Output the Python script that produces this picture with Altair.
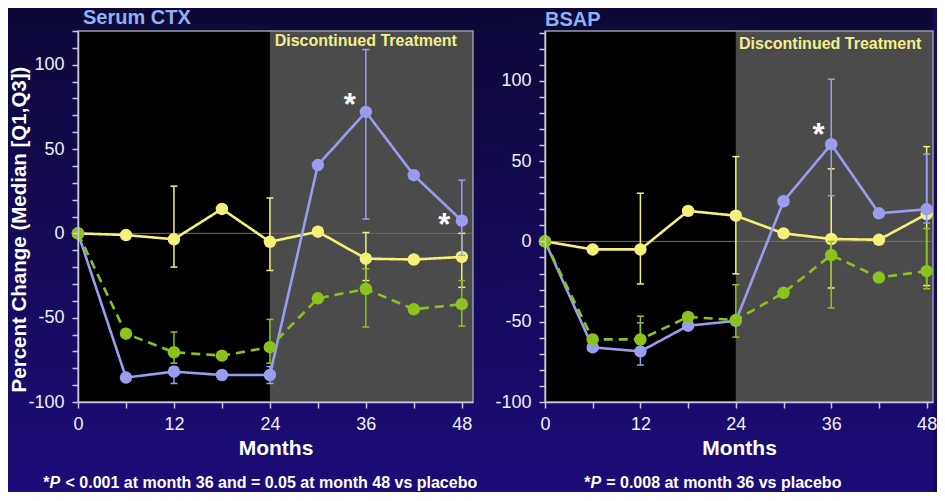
import altair as alt
import pandas as pd

FONT = "Liberation Sans"

months = [0, 6, 12, 18, 24, 30, 36, 42, 48]
series = ["Placebo", "Denosumab", "Comparator"]
colors = ["#f5f07a", "#9a9cf0", "#8cc21c"]
dashes = [[1, 0], [1, 0], [9, 6]]

# ---- Serum CTX (percent change, median) ----
ctx_placebo = [0, -1, -3.5, 14.5, -5, 1, -15, -15.5, -14]
ctx_deno = [0, -85.5, -82, -84, -84, 40.5, 72, 34.5, 7.5]
ctx_comp = [0, -59.5, -70.5, -72.5, -67.5, -38.5, -33, -45, -42]

ctx_err_series = ["Placebo"] * 4 + ["Denosumab"] * 4 + ["Comparator"] * 4
ctx_err_month = [12, 24, 36, 48] * 3
ctx_err_low = [-20, -22, -28, -32, -89, -89, 8.5, -13, -77, -77, -55.5, -55]
ctx_err_high = [28, 21, 0.5, 0, -79, -79, 109, 31.5, -58.5, -51, -21, -28]

ctx_star_month = [34, 45.8]
ctx_star_value = [77.5, 6.3]

# ---- BSAP ----
bsap_placebo = [0, -5, -5, 19, 16, 5, 1.5, 1, 17]
bsap_deno = [0, -66, -68.5, -52.5, -49.5, 25, 60.5, 17.5, 20]
bsap_comp = [0, -61, -61, -47, -49, -32, -8.5, -22.5, -18.5]

bsap_err_series = ["Placebo"] * 4 + ["Denosumab"] * 3 + ["Comparator"] * 4
bsap_err_month = [12, 24, 36, 48, 12, 36, 48, 12, 24, 36, 48]
bsap_err_low = [-26.5, -20.2, -29, -27.5, -77, 28.4, 11.4, -64, -59.6, -41.4, -29.5]
bsap_err_high = [30, 52.8, 45.2, 59, -50.7, 101, 54.3, -46.6, -27, 0, 8]

bsap_star_month = [34.4]
bsap_star_value = [67.7]

disc_label = "Discontinued Treatment"
phase_start = [0, 24]
phase_colors = ["#000000", "#4b4b4b"]

ctx_foot = ["*", "P", "< 0.001 at month 36 and = 0.05 at month 48 vs placebo"]
bsap_foot = ["*", "P", "= 0.008 at month 36 vs placebo"]

HEIGHT = 371


def panel(title_text, title_pos, vals, err, stars, disc_pos,
          ymax, xmax, width, ytitle, foot, foot_x, gradient):
    xs = alt.Scale(domain=[0, xmax], nice=False, zero=False)
    ys = alt.Scale(domain=[-100, ymax], nice=False, zero=False)
    xax = alt.Axis(values=months, labelExpr="datum.value % 12 == 0 ? '' + datum.value : ''",
                   title="Months", titleFontSize=21, titleFontWeight="bold", titleColor="white",
                   titleFont=FONT, titleBaseline="alphabetic", titleY=52,
                   labelFont=FONT, labelFontSize=18, labelColor="#f0f0f8", labelPadding=7,
                   labelFlush=False, labelOverlap=False, tickSize=6, tickColor="#c8c8dc",
                   tickWidth=1.5, domainColor="#c8c8dc", domainWidth=1.5, grid=False, zindex=1)
    yargs = dict(values=list(range(-100, int(ymax) + 1, 10)),
                 labelExpr="datum.value % 50 == 0 ? '' + datum.value : ''",
                 labelFont=FONT, labelFontSize=18, labelColor="#f0f0f8", labelPadding=8,
                 labelOverlap=False, tickSize=6, tickColor="#c8c8dc", tickWidth=1.5,
                 domainColor="#c8c8dc", domainWidth=1.5, grid=False, zindex=1)
    if ytitle:
        yax = alt.Axis(title=ytitle, titleFont=FONT, titleFontSize=20.5, titleFontWeight="bold",
                       titleColor="white", titleX=-59, titleY=198, titleAngle=270,
                       titleBaseline="middle", titleAlign="center", **yargs)
    else:
        yax = alt.Axis(title=None, **yargs)

    def ex(f):
        return alt.X(f"{f}:Q", scale=xs, axis=xax)

    def ey(f):
        return alt.Y(f"{f}:Q", scale=ys, axis=yax)

    one = pd.DataFrame({"a": [0]})
    layers = []
    if gradient:
        layers.append(alt.Chart(one).mark_rect(fill={
            "gradient": "linear", "x1": 0, "y1": 0, "x2": 0, "y2": 1,
            "stops": [{"offset": 0, "color": "#0d0838"}, {"offset": 1, "color": "#1c0c78"}]
        }).encode(x=alt.value(-70), x2=alt.value(855), y=alt.value(-23), y2=alt.value(461)))

    phases = pd.DataFrame({"start": phase_start, "end": [24, xmax], "lo": [-100, -100],
                           "hi": [ymax, ymax], "c": phase_colors})
    layers.append(alt.Chart(phases).mark_rect().encode(
        x=ex("start"), x2=alt.X2("end:Q"), y=ey("lo"), y2=alt.Y2("hi:Q"),
        fill=alt.Fill("c:N", scale=None)))
    layers.append(alt.Chart(pd.DataFrame({"z": [0]})).mark_rule(
        color="#6e6e6e", strokeWidth=1).encode(y=ey("z")))
    layers.append(alt.Chart(one).mark_rect(fillOpacity=0, stroke="#9a9aa8", strokeWidth=1.5).encode(
        x=alt.value(0), x2=alt.value(width), y=alt.value(0), y2=alt.value(HEIGHT)))

    edf = pd.DataFrame({"s": err[0], "month": err[1], "lo": err[2], "hi": err[3]})
    for name, col, dash, v in zip(series, colors, dashes, vals):
        e = edf[edf["s"] == name]
        layers.append(alt.Chart(e).mark_rule(color=col, strokeWidth=1.5).encode(
            x=ex("month"), y=ey("lo"), y2=alt.Y2("hi:Q")))
        layers.append(alt.Chart(e).transform_fold(["lo", "hi"], as_=["k", "v"]).mark_tick(
            orient="horizontal", size=7, thickness=1.5, color=col, opacity=1).encode(
            x=ex("month"), y=ey("v")))
        d = pd.DataFrame({"month": months, "value": v})
        layers.append(alt.Chart(d).mark_line(color=col, strokeWidth=2.6, strokeDash=dash).encode(
            x=ex("month"), y=ey("value")))
        layers.append(alt.Chart(d).mark_circle(color=col, size=155, opacity=1).encode(
            x=ex("month"), y=ey("value")))

    sdf = pd.DataFrame({"month": stars[0], "value": stars[1], "t": ["*"] * len(stars[0])})
    layers.append(alt.Chart(sdf).mark_text(font=FONT, fontSize=31, fontWeight="bold",
                                           color="white", baseline="middle", dy=3).encode(
        x=ex("month"), y=ey("value"), text="t:N"))
    ddf = pd.DataFrame({"month": [disc_pos[0]], "value": [disc_pos[1]], "t": [disc_label]})
    layers.append(alt.Chart(ddf).mark_text(font=FONT, fontSize=16, fontWeight="bold",
                                           color="#f2ef8c", align="left", baseline="middle").encode(
        x=ex("month"), y=ey("value"), text="t:N"))

    # panel title
    layers.append(alt.Chart(pd.DataFrame({"t": [title_text]})).mark_text(
        font=FONT, fontSize=20, fontWeight="bold", color="#8fb2f2",
        align="left", baseline="top").encode(
        x=alt.value(title_pos[0]), y=alt.value(title_pos[1]), text="t:N"))

    styles = ["normal", "italic", "normal"]
    for txt, px, st in zip(foot, foot_x, styles):
        layers.append(alt.Chart(pd.DataFrame({"t": [txt]})).mark_text(
            font=FONT, fontSize=16, fontWeight="bold", fontStyle=st, color="white",
            align="left", baseline="alphabetic").encode(
            x=alt.value(px), y=alt.value(457), text="t:N"))

    return alt.layer(*layers).properties(width=width, height=HEIGHT)


left = panel("Serum CTX", (5, -23), [ctx_placebo, ctx_deno, ctx_comp],
             [ctx_err_series, ctx_err_month, ctx_err_low, ctx_err_high],
             [ctx_star_month, ctx_star_value], (24.6, 114), 120, 49.4, 395,
             "Percent Change (Median [Q1,Q3])", ctx_foot, [-34.7, -28.5, -12.5], True)
right = panel("BSAP", (0, -21), [bsap_placebo, bsap_deno, bsap_comp],
              [bsap_err_series, bsap_err_month, bsap_err_low, bsap_err_high],
              [bsap_star_month, bsap_star_value], (24.4, 123), 131, 48.8, 388,
              None, bsap_foot, [39.3, 45.5, 61.2], False)

chart = alt.hconcat(left, right, spacing=72, bounds="flush").properties(
    padding=0, background="#150a58"
).configure_view(strokeWidth=0)

chart.save("out.html", embed_options={"renderer": "svg", "actions": False})
